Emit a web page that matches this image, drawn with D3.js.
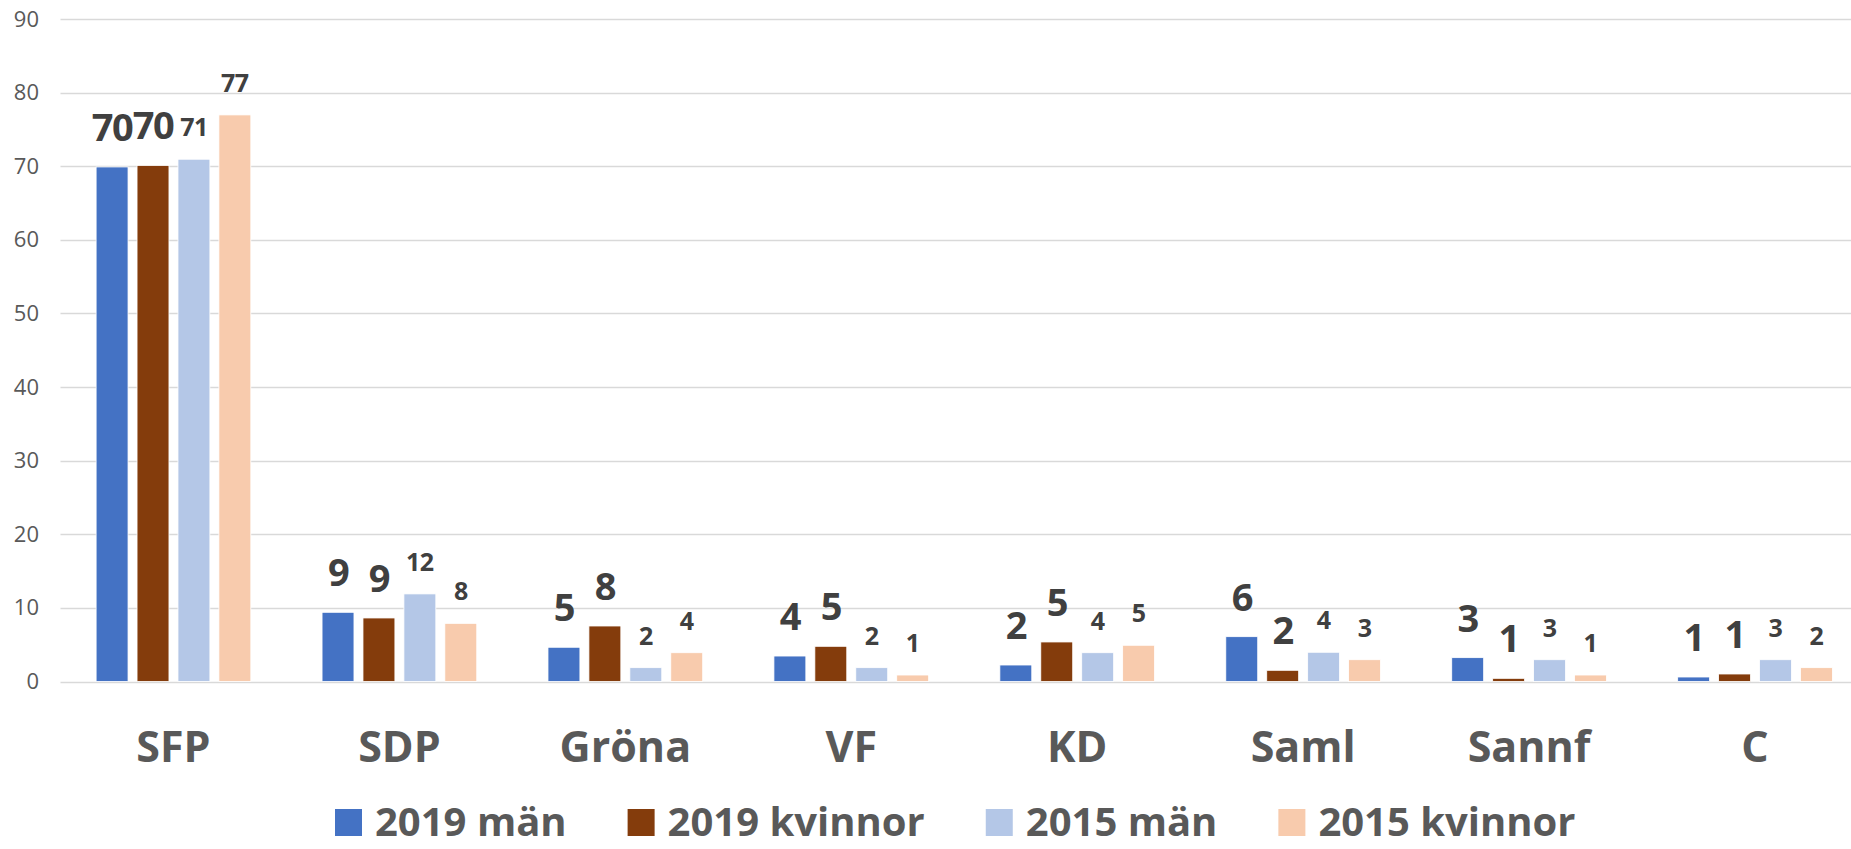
<!DOCTYPE html>
<html>
<head>
<meta charset="utf-8">
<script src="https://cdn.jsdelivr.net/npm/d3@7"></script>
<style>
  body { margin: 0; background: #fff; }
  svg { display: block; font-family: "Open Sans", sans-serif; }
</style>
</head>
<body>
<svg id="chart" width="1851" height="849"></svg>
<script>
// chart data
const categories = ['SFP', 'SDP', 'Gröna', 'VF', 'KD', 'Saml', 'Sannf', 'C'];
const seriesNames = ['2019 män', '2019 kvinnor', '2015 män', '2015 kvinnor'];
const man2019 = [69.9, 9.4, 4.65, 3.46, 2.24, 6.09, 3.24, 0.61];
const kvinnor2019 = [70.1, 8.63, 7.54, 4.78, 5.37, 1.52, 0.43, 1.02];
const man2015 = [70.95, 11.9, 1.88, 1.88, 3.91, 3.97, 2.96, 2.96];
const kvinnor2015 = [76.97, 7.9, 3.91, 0.88, 4.92, 2.96, 0.88, 1.88];
const labelMan2019 = ['70', '9', '5', '4', '2', '6', '3', '1'];
const labelKvinnor2019 = ['70', '9', '8', '5', '5', '2', '1', '1'];
const labelMan2015 = ['71', '12', '2', '2', '4', '4', '3', '3'];
const labelKvinnor2015 = ['77', '8', '4', '1', '5', '3', '1', '2'];
const yTicks = [0, 10, 20, 30, 40, 50, 60, 70, 80, 90];

const colors = ['#4472C4', '#843C0C', '#B4C7E7', '#F8CBAD'];
const seriesValues = [man2019, kvinnor2019, man2015, kvinnor2015];
const seriesLabels = [labelMan2019, labelKvinnor2019, labelMan2015, labelKvinnor2015];

const svg = d3.select('#chart');

const plot = { left: 60.5, right: 1868, top: 19, bottom: 681.5 };

const x0 = d3.scaleBand()
    .domain(categories)
    .range([plot.left, plot.right])
    .padding(0);

const x1 = d3.scaleBand()
    .domain(seriesNames)
    .range([0, x0.bandwidth()])
    .paddingInner(0.22)
    .paddingOuter(0.87);

const y = d3.scaleLinear()
    .domain([0, 90])
    .range([plot.bottom, plot.top]);

// gridlines
svg.append('g')
    .attr('class', 'grid')
    .selectAll('line')
    .data(yTicks)
    .enter()
    .append('line')
    .attr('x1', plot.left)
    .attr('x2', plot.right)
    .attr('y1', function (d) { return Math.round(y(d)) + 0.5; })
    .attr('y2', function (d) { return Math.round(y(d)) + 0.5; })
    .style('stroke', '#D9D9D9')
    .style('stroke-width', 1.5);

// y axis labels
const yAxis = d3.axisLeft(y).tickValues(yTicks).tickSize(0).tickPadding(0);
const yAxisG = svg.append('g')
    .attr('transform', 'translate(39,0)')
    .call(yAxis);
yAxisG.select('.domain').remove();
yAxisG.selectAll('text')
    .style('font-family', '"Open Sans", sans-serif')
    .style('font-size', '22px')
    .style('fill', '#595959');

// bars
const rows = [];
categories.forEach(function (c, i) {
    seriesNames.forEach(function (s, j) {
        rows.push({ cat: c, series: s, idx: j, value: seriesValues[j][i], label: seriesLabels[j][i] });
    });
});

const barsG = svg.append('g').attr('class', 'bars');
barsG.selectAll('rect')
    .data(rows)
    .enter()
    .append('rect')
    .attr('x', function (d) { return x0(d.cat) + x1(d.series); })
    .attr('y', function (d) { return y(d.value); })
    .attr('width', x1.bandwidth())
    .attr('height', function (d) { return y(0) - y(d.value); })
    .style('fill', function (d) { return colors[d.idx]; })
    .style('stroke', '#fff')
    .style('stroke-width', 0.8);

// data labels: 2019 big, 2015 smaller
barsG.selectAll('text')
    .data(rows)
    .enter()
    .append('text')
    .attr('x', function (d) { return x0(d.cat) + x1(d.series) + x1.bandwidth() / 2; })
    .attr('y', function (d) { return y(d.value) - (d.idx < 2 ? 26 : 23); })
    .attr('text-anchor', 'middle')
    .style('font-weight', 700)
    .style('font-size', function (d) { return d.idx < 2 ? '38px' : '25px'; })
    .style('letter-spacing', function (d) { return d.idx < 2 ? '-1.5px' : '-0.5px'; })
    .style('fill', '#404040')
    .text(function (d) { return d.label; });

// category labels
svg.append('g')
    .attr('class', 'categories')
    .selectAll('text')
    .data(categories)
    .enter()
    .append('text')
    .attr('x', function (d) { return x0(d) + x0.bandwidth() / 2; })
    .attr('y', 762)
    .attr('text-anchor', 'middle')
    .style('font-size', '43px')
    .style('font-weight', 700)
    .style('fill', '#595959')
    .text(function (d) { return d; });

// legend
const legend = svg.append('g').attr('class', 'legend');
const items = legend.selectAll('g')
    .data(seriesNames)
    .enter()
    .append('g');
items.append('rect')
    .attr('width', 27)
    .attr('height', 27)
    .attr('y', 809)
    .style('fill', function (d, i) { return colors[i]; });
items.append('text')
    .attr('x', 40)
    .attr('y', 836)
    .style('font-size', '40px')
    .style('font-weight', 700)
    .style('fill', '#595959')
    .text(function (d) { return d; });

let lx = 335;
const offsets = [];
items.each(function () {
    offsets.push(lx);
    lx += 40 + this.querySelector('text').getComputedTextLength() + 61;
});
items.attr('transform', function (d, i) { return 'translate(' + offsets[i] + ',0)'; });
</script>
</body>
</html>
